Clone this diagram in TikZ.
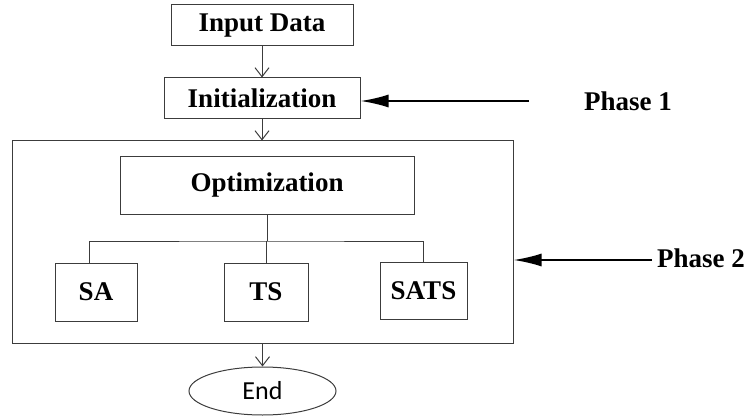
\documentclass[tikz,border=0pt]{standalone}
\usepackage{fontspec}
\setmainfont{Liberation Serif}
\newfontfamily\endfont{Carlito}
\usepackage{tikz}
\usetikzlibrary{shapes,arrows.meta,positioning,calc}
\usepackage{xcolor}
\definecolor{boxgrey}{RGB}{60,60,60}

\begin{document}
\begin{tikzpicture}[x=1pt, y=-1pt,
    stepbox/.style={rectangle, draw=boxgrey, line width=1pt, inner sep=0pt,
        font=\fontsize{27}{31}\selectfont\bfseries},
    phaselabel/.style={font=\fontsize{27}{31}\selectfont\bfseries, inner sep=0pt},
    flow/.style={-{Straight Barb[length=9pt, width=14pt]}, line width=1pt, boxgrey},
    link/.style={line width=1pt, boxgrey},
    phasearr/.style={-{Latex[length=28pt, width=13pt]}, line width=2pt, black}
]
    \useasboundingbox (0,0) rectangle (747,417);

    \node[stepbox, minimum width=182pt, minimum height=41pt] (input) at (262, 25.5) {Input Data};
    \node[stepbox, minimum width=196pt, minimum height=41pt] (init) at (262, 98.5) {Initialization};
    \node[stepbox, minimum width=501pt, minimum height=202pt] (frame) at (262.5, 242) {};
    \node[stepbox, minimum width=294pt, minimum height=57pt] (opt) at (267, 185.5) {Optimization};
    \node[stepbox, minimum width=82pt, minimum height=58pt] (sa) at (96, 292) {SA};
    \node[stepbox, minimum width=84pt, minimum height=58pt] (ts) at (266, 292) {TS};
    \node[stepbox, minimum width=87pt, minimum height=57pt] (sats) at (423.5, 290.5) {SATS};
    \node[ellipse, draw=boxgrey, line width=1pt, minimum width=147pt, minimum height=48pt,
        inner sep=0pt, font=\endfont\fontsize{26}{30}\selectfont] (end) at (262.5, 391) {End};

    % main flow
    \draw[flow] (input) -- (init);
    \draw[flow] (init.south) -- (init.south |- frame.north);
    \draw[flow] (frame.south -| end.north) -- (end.north);

    % branches
    \coordinate (bus) at (267, 241);
    \coordinate (satop) at (89, 263);
    \draw[link] (opt.south) -- (bus);
    \draw[link] (satop) |- (bus) -| (sats.north);
    \draw[link] (ts.north) -- (ts.north |- bus);

    % phases
    \node[phaselabel] (phase1) at (628, 101) {Phase 1};
    \node[phaselabel] (phase2) at (701, 258) {Phase 2};
    \coordinate (p1start) at (529, 101);
    \coordinate (p2start) at (652, 260);
    \draw[phasearr] (p1start) -- (p1start -| init.east);
    \draw[phasearr] (p2start) -- (p2start -| frame.east);
\end{tikzpicture}
\end{document}
